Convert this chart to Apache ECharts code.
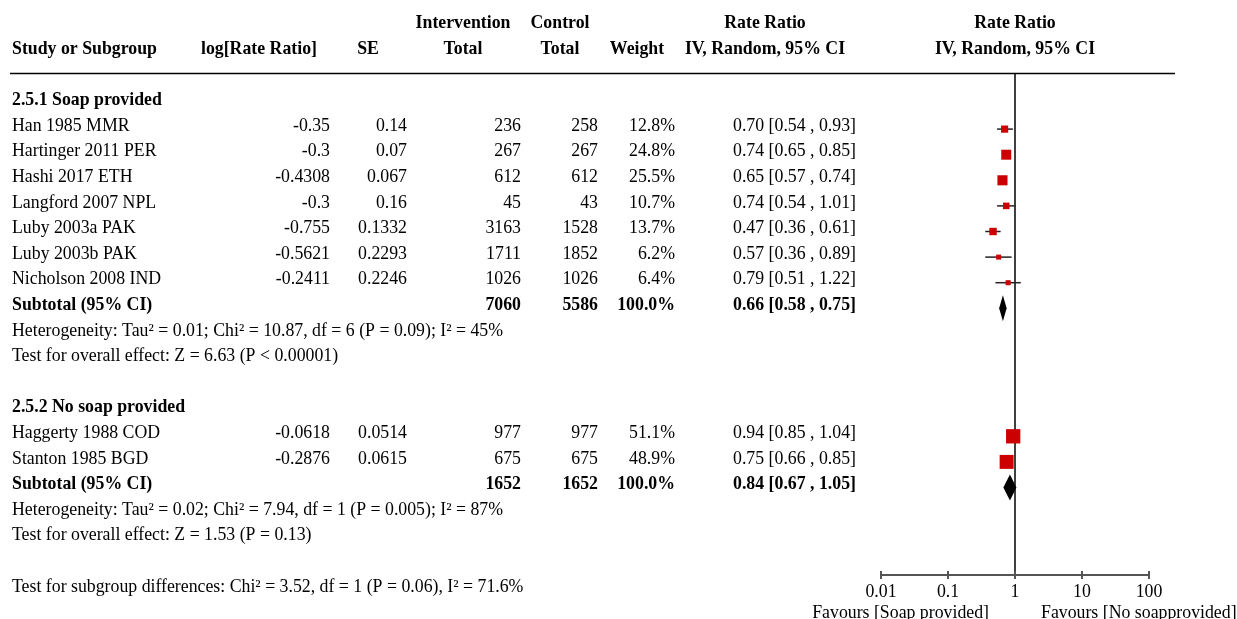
<!DOCTYPE html>
<html>
<head>
<meta charset="utf-8">
<script src="https://cdn.jsdelivr.net/npm/echarts@6/dist/echarts.min.js"></script>
<style>
  html, body { margin: 0; padding: 0; background: #fff; }
  #chart { width: 1237px; height: 619px; }
</style>
</head>
<body>
<div id="chart"></div>
<script>
// ---- Study data ----
const groupNames = ['2.5.1 Soap provided', '2.5.2 No soap provided'];
const studies = ['Han 1985 MMR', 'Hartinger 2011 PER', 'Hashi 2017 ETH', 'Langford 2007 NPL',
  'Luby 2003a PAK', 'Luby 2003b PAK', 'Nicholson 2008 IND',
  'Haggerty 1988 COD', 'Stanton 1985 BGD'];
const studyGroup = [0, 0, 0, 0, 0, 0, 0, 1, 1];
const logRateRatio = [-0.35, -0.3, -0.4308, -0.3, -0.755, -0.5621, -0.2411, -0.0618, -0.2876];
const stdErr = [0.14, 0.07, 0.067, 0.16, 0.1332, 0.2293, 0.2246, 0.0514, 0.0615];
const interventionTotal = [236, 267, 612, 45, 3163, 1711, 1026, 977, 675];
const controlTotal = [258, 267, 612, 43, 1528, 1852, 1026, 977, 675];
const weightPct = [12.8, 24.8, 25.5, 10.7, 13.7, 6.2, 6.4, 51.1, 48.9];
const rateRatio = [0.70, 0.74, 0.65, 0.74, 0.47, 0.57, 0.79, 0.94, 0.75];
const ciLow = [0.54, 0.65, 0.57, 0.54, 0.36, 0.36, 0.51, 0.85, 0.66];
const ciHigh = [0.93, 0.85, 0.74, 1.01, 0.61, 0.89, 1.22, 1.04, 0.85];

// ---- Subgroup totals ----
const subInterventionTotal = [7060, 1652];
const subControlTotal = [5586, 1652];
const subWeightPct = [100.0, 100.0];
const subRateRatio = [0.66, 0.84];
const subCiLow = [0.58, 0.67];
const subCiHigh = [0.75, 1.05];
const heterogeneity = [
  'Heterogeneity: Tau² = 0.01; Chi² = 10.87, df = 6 (P = 0.09); I² = 45%',
  'Heterogeneity: Tau² = 0.02; Chi² = 7.94, df = 1 (P = 0.005); I² = 87%'
];
const overallEffect = [
  'Test for overall effect: Z = 6.63 (P < 0.00001)',
  'Test for overall effect: Z = 1.53 (P = 0.13)'
];
const subgroupTest = 'Test for subgroup differences: Chi² = 3.52, df = 1 (P = 0.06), I² = 71.6%';

// ---- Axis ----
const axisTicks = [0.01, 0.1, 1, 10, 100];
const favoursLeft = 'Favours [Soap provided]';
const favoursRight = 'Favours [No soapprovided]';

// ---- Build row layout: each group gets header, studies, subtotal, two stat lines, blank ----
const rows = [];
let r = 0;
groupNames.forEach((g, gi) => {
  rows.push({ kind: 'group', row: r++, gi });
  studyGroup.forEach((sg, si) => { if (sg === gi) rows.push({ kind: 'study', row: r++, si }); });
  rows.push({ kind: 'subtotal', row: r++, gi });
  rows.push({ kind: 'het', row: r++, gi });
  rows.push({ kind: 'overall', row: r++, gi });
  r++;
});
const subgroupTestRow = r;

const studyData = [];
const diamondData = [];
rows.forEach(o => {
  if (o.kind === 'study') {
    const i = o.si;
    studyData.push([ciLow[i], ciHigh[i], rateRatio[i], o.row, weightPct[i]]);
  } else if (o.kind === 'subtotal') {
    const g = o.gi;
    diamondData.push([subCiLow[g], subCiHigh[g], subRateRatio[g], o.row]);
  }
});

// Plot area spans from the header rule (top) to the axis (bottom); row 0 sits 30.5px below the top
const ROW_PX = 25.6;
const yMin = -30.5 / ROW_PX;
const yMax = 471.5 / ROW_PX;

const FAMILY = "'Liberation Serif', 'Times New Roman', serif";
const FONT = '17.8px ' + FAMILY;
const BOLD = 'bold 17.8px ' + FAMILY;

const chart = echarts.init(document.getElementById('chart'), null, { renderer: 'canvas' });

chart.setOption({
  animation: false,
  backgroundColor: '#fff',
  grid: { left: 881, right: 88, top: 73, bottom: 44, containLabel: false },
  xAxis: {
    type: 'log', logBase: 10, min: 0.01, max: 100, position: 'bottom',
    splitLine: { show: false }, minorTick: { show: false },
    axisLine: { show: true, onZero: false, lineStyle: { color: '#555', width: 2 } },
    axisTick: { show: false },
    axisLabel: {
      show: true, margin: 8, color: '#000', fontSize: 17.8, fontFamily: FAMILY,
      formatter: v => {
        const t = axisTicks.find(a => Math.abs(a - v) / a < 1e-6);
        return t === undefined ? '' : String(t);
      }
    }
  },
  yAxis: {
    type: 'value', inverse: true, min: yMin, max: yMax, show: false, splitLine: { show: false }
  },
  series: [
    {
      // line of no effect
      type: 'line', data: [[1, yMin], [1, yMax]], symbol: 'none',
      lineStyle: { color: '#000', width: 1.5 }, silent: true, z: 1
    },
    {
      // axis ticks crossing the axis line
      type: 'custom', data: axisTicks.map(t => [t, yMax]), clip: false, z: 4, silent: true,
      renderItem: (params, api) => {
        const p = api.coord([api.value(0), api.value(1)]);
        return {
          type: 'line', shape: { x1: p[0], y1: p[1] - 4, x2: p[0], y2: p[1] + 4 },
          style: { stroke: '#555', lineWidth: 2 }
        };
      }
    },
    {
      type: 'custom', data: studyData, clip: false, z: 3,
      renderItem: (params, api) => {
        const row = api.value(3);
        const a = api.coord([api.value(0), row]);
        const b = api.coord([api.value(1), row]);
        const c = api.coord([api.value(2), row]);
        const s = 2 * Math.sqrt(api.value(4));
        return {
          type: 'group',
          children: [
            { type: 'line', shape: { x1: a[0], y1: a[1], x2: b[0], y2: b[1] },
              style: { stroke: '#222', lineWidth: 1.5 } },
            { type: 'rect', shape: { x: c[0] - s / 2, y: c[1] - s / 2, width: s, height: s },
              style: { fill: '#cc0000' } }
          ]
        };
      }
    },
    {
      type: 'custom', data: diamondData, clip: false, z: 3,
      renderItem: (params, api) => {
        const row = api.value(3);
        const a = api.coord([api.value(0), row]);
        const b = api.coord([api.value(1), row]);
        const c = api.coord([api.value(2), row]);
        const h = 13;
        return {
          type: 'polygon',
          shape: { points: [[a[0], c[1]], [c[0], c[1] - h], [b[0], c[1]], [c[0], c[1] + h]] },
          style: { fill: '#000' }
        };
      }
    }
  ]
});

// ---- Table text, placed on the same row scale as the plot ----
const TEXT_SHIFT = -3;
const rowY = row => chart.convertToPixel({ yAxisIndex: 0 }, row) + TEXT_SHIFT;

const texts = [];
function txt(str, x, row, align, bold) {
  texts.push({
    type: 'text', silent: true,
    style: { text: str, x: x, y: rowY(row), font: bold ? BOLD : FONT, fill: '#000',
      textAlign: align, textVerticalAlign: 'middle' }
  });
}

// Column anchors
const COL = { name: 12, logrr: 330, se: 407, inter: 521, ctrl: 598, weight: 675, ci: 856 };
const fmtCI = (m, l, h) => m.toFixed(2) + ' [' + l.toFixed(2) + ' , ' + h.toFixed(2) + ']';

// Header
txt('Intervention', 463, -3, 'center', true);
txt('Control', 560, -3, 'center', true);
txt('Rate Ratio', 765, -3, 'center', true);
txt('Rate Ratio', 1015, -3, 'center', true);
txt('Study or Subgroup', COL.name, -2, 'left', true);
txt('log[Rate Ratio]', 259, -2, 'center', true);
txt('SE', 368, -2, 'center', true);
txt('Total', 463, -2, 'center', true);
txt('Total', 560, -2, 'center', true);
txt('Weight', 637, -2, 'center', true);
txt('IV, Random, 95% CI', 765, -2, 'center', true);
txt('IV, Random, 95% CI', 1015, -2, 'center', true);

rows.forEach(o => {
  if (o.kind === 'group') {
    txt(groupNames[o.gi], COL.name, o.row, 'left', true);
  } else if (o.kind === 'study') {
    const i = o.si;
    txt(studies[i], COL.name, o.row, 'left');
    txt(String(logRateRatio[i]), COL.logrr, o.row, 'right');
    txt(String(stdErr[i]), COL.se, o.row, 'right');
    txt(String(interventionTotal[i]), COL.inter, o.row, 'right');
    txt(String(controlTotal[i]), COL.ctrl, o.row, 'right');
    txt(weightPct[i].toFixed(1) + '%', COL.weight, o.row, 'right');
    txt(fmtCI(rateRatio[i], ciLow[i], ciHigh[i]), COL.ci, o.row, 'right');
  } else if (o.kind === 'subtotal') {
    const g = o.gi;
    txt('Subtotal (95% CI)', COL.name, o.row, 'left', true);
    txt(String(subInterventionTotal[g]), COL.inter, o.row, 'right', true);
    txt(String(subControlTotal[g]), COL.ctrl, o.row, 'right', true);
    txt(subWeightPct[g].toFixed(1) + '%', COL.weight, o.row, 'right', true);
    txt(fmtCI(subRateRatio[g], subCiLow[g], subCiHigh[g]), COL.ci, o.row, 'right', true);
  } else if (o.kind === 'het') {
    txt(heterogeneity[o.gi], COL.name, o.row, 'left');
  } else if (o.kind === 'overall') {
    txt(overallEffect[o.gi], COL.name, o.row, 'left');
  }
});
txt(subgroupTest, COL.name, subgroupTestRow, 'left');

// Rule under the header
const ruleY = Math.round(chart.convertToPixel({ yAxisIndex: 0 }, yMin)) + 0.5;
texts.push({
  type: 'line', silent: true,
  shape: { x1: 10, y1: ruleY, x2: 1175, y2: ruleY },
  style: { stroke: '#000', lineWidth: 1.5 }
});

// Direction labels beneath the axis
texts.push({
  type: 'text', silent: true,
  style: { text: favoursLeft, x: 989, y: 613, font: FONT, fill: '#000', textAlign: 'right', textVerticalAlign: 'middle' }
});
texts.push({
  type: 'text', silent: true,
  style: { text: favoursRight, x: 1041, y: 613, font: FONT, fill: '#000', textAlign: 'left', textVerticalAlign: 'middle' }
});

chart.setOption({ graphic: { elements: texts } });
</script>
</body>
</html>
